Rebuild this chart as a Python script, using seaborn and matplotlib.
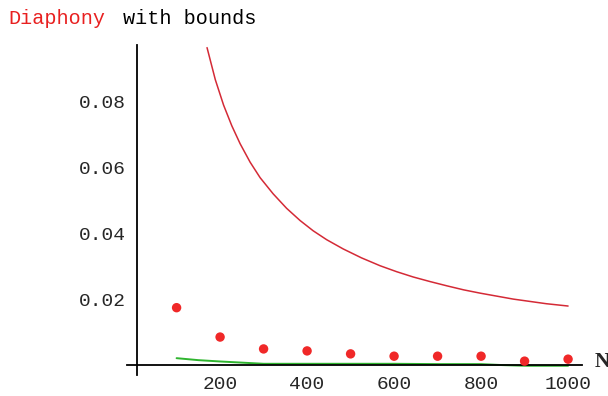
import matplotlib
matplotlib.use("Agg")
import matplotlib.pyplot as plt
import seaborn as sns
import pandas as pd
from matplotlib.ticker import MultipleLocator, FixedLocator

# --- data ---
bound_n = [170, 189, 208, 227, 246, 269, 292, 322, 353, 384, 414, 445, 483, 525, 568, 606,
           644, 683, 722, 760, 798, 836, 874, 912, 950, 1000]
bound_upper = [0.0962, 0.0865, 0.0788, 0.0725, 0.0671, 0.0615, 0.0568, 0.0519, 0.0475, 0.0438,
               0.0407, 0.0380, 0.0352, 0.0325, 0.0301, 0.0283, 0.0267, 0.0253, 0.0240, 0.0228,
               0.0218, 0.0209, 0.0200, 0.0193, 0.0186, 0.0179]
point_n = [100, 200, 300, 400, 500, 600, 700, 800, 900, 1000]
diaphony = [0.0174, 0.0085, 0.0049, 0.0043, 0.0034, 0.0027, 0.0027, 0.0027, 0.0012, 0.0018]
lower_n = [100, 150, 200, 300, 400, 500, 600, 700, 800, 850, 900, 1000]
bound_lower = [0.0021, 0.0015, 0.0011, 0.0004, 0.0004, 0.0004, 0.0004, 0.0003, 0.0003, 0.0000, -0.0002, -0.0002]
x_ticks = [200, 400, 600, 800, 1000]
y_ticks = [0.02, 0.04, 0.06, 0.08]
y_tick_labels = ["0.02", "0.04", "0.06", "0.08"]

sns.set_style("white")
plt.rcParams['font.family'] = ['Liberation Mono', 'DejaVu Sans Mono']

fig = plt.figure(figsize=(6.08, 3.96), dpi=100)
ax = fig.add_axes([127/608, 21/396, (582-127)/608, (375-45)/396])

df_up = pd.DataFrame({"N": bound_n, "v": bound_upper})
df_pt = pd.DataFrame({"N": point_n, "v": diaphony})
df_lo = pd.DataFrame({"N": lower_n, "v": bound_lower})

sns.lineplot(data=df_up, x="N", y="v", ax=ax, color="#d42a36", linewidth=1.1, zorder=3)
sns.lineplot(data=df_lo, x="N", y="v", ax=ax, color="#2fb52f", linewidth=1.4, zorder=1)
sns.scatterplot(data=df_pt, x="N", y="v", ax=ax, color="#f02828", s=46, edgecolor="none", zorder=4)

ax.set_xlim(-14, 1032)
ax.set_ylim(-0.003, 0.097)

for s in ["top", "right"]:
    ax.spines[s].set_visible(False)
ax.spines["left"].set_position(("data", 10))
ax.spines["bottom"].set_position(("data", 0))
for s in ["left", "bottom"]:
    ax.spines[s].set_linewidth(1.3)
    ax.spines[s].set_color("black")
    ax.spines[s].set_zorder(2)

ax.xaxis.set_major_locator(FixedLocator(x_ticks))
ax.xaxis.set_minor_locator(MultipleLocator(50))
ax.set_yticks(y_ticks)
ax.set_yticklabels(y_tick_labels)
ax.set_xticklabels([str(t) for t in x_ticks])
ax.tick_params(axis="x", which="major", direction="in", length=6, width=1, pad=8, labelsize=14)
ax.tick_params(axis="x", which="minor", direction="in", length=3, width=1)
ax.tick_params(axis="y", which="major", direction="in", length=3, width=1, pad=8, labelsize=14)
ax.set_xlabel("")
ax.set_ylabel("")
ax.grid(False)

ax.text(1078, 0.0008, "N", fontsize=15, fontweight="bold", ha="center", va="center",
        family=["Liberation Serif", "DejaVu Serif"], clip_on=False)

fig.text(8/608, 1 - 18/396, "Diaphony", color="#e82020", fontsize=14.5, va="center", ha="left")
fig.text(123/608, 1 - 18/396, "with bounds", color="black", fontsize=14.5, va="center", ha="left")

fig.savefig("out.png", dpi=100)
